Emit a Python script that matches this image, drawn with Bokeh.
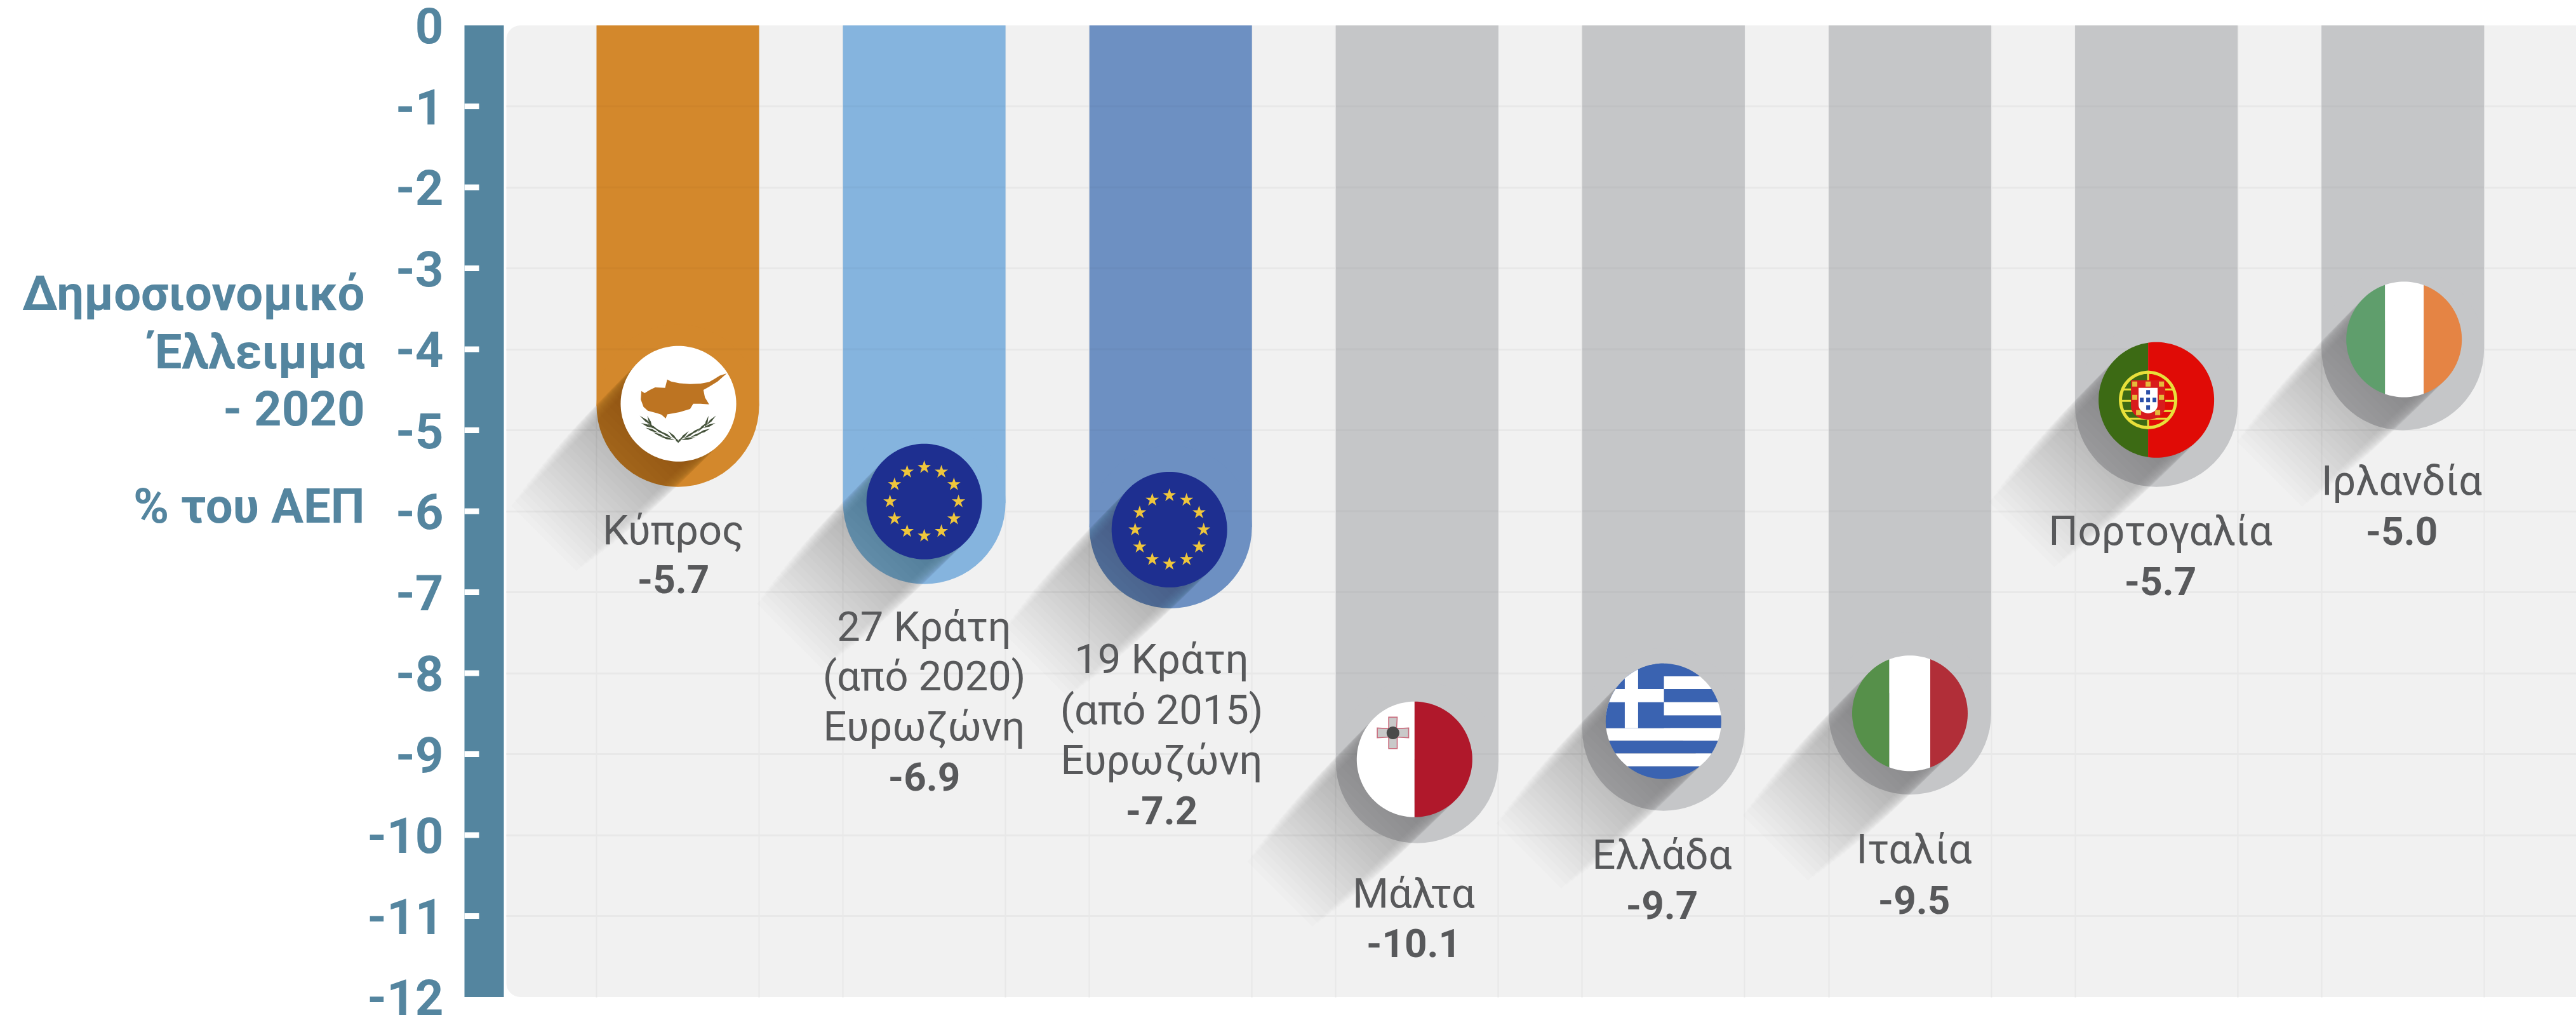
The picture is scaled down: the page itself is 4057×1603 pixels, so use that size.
from bokeh.plotting import figure
from bokeh.models import (BoxAnnotation, FixedTicker, Range1d, Grid)
from bokeh.core.properties import value
from bokeh.embed import file_html
from bokeh.resources import INLINE
import numpy as np

# ---------- data ----------
categories = [["Κύπρος"],
              ["27 Κράτη", "(από 2020)", "Ευρωζώνη"],
              ["19 Κράτη", "(από 2015)", "Ευρωζώνη"],
              ["Μάλτα"], ["Ελλάδα"], ["Ιταλία"], ["Πορτογαλία"], ["Ιρλανδία"]]
deficits = [-5.7, -6.9, -7.2, -10.1, -9.7, -9.5, -5.7, -5.0]
value_labels = ["-5.7", "-6.9", "-7.2", "-10.1", "-9.7", "-9.5", "-5.7", "-5.0"]
bar_colors = ["#d3882c", "#85b4de", "#6d90c2", "#c5c6c8", "#c5c6c8", "#c5c6c8", "#c5c6c8", "#c5c6c8"]
y_ticks = [0, -1, -2, -3, -4, -5, -6, -7, -8, -9, -10, -11, -12]
y_tick_labels = ["0", "-1", "-2", "-3", "-4", "-5", "-6", "-7", "-8", "-9", "-10", "-11", "-12"]
title_lines = ["Δημοσιονομικό", "Έλλειμμα", "- 2020", "% του ΑΕΠ"]

# ---------- page geometry (page pixels) ----------
FIG_W, FIG_H = 4057, 1603
X0, XS = 1067.0, 388.1       # page x of the first bar, spacing of the bars
Y0, YS = 39.5, 127.5         # page y of value 0, pixels per unit
BAR_W = 256
FLAG_R = 91
# how far each flag sits from the centre of its bar's round end
flag_dx = [1, 0, -2, -4, 0, 0, 0, 2]
flag_dy = [-3, -2, 4, -4, -13, 0, -9, -15]


def X(px):
    return (np.asarray(px, dtype=float) - X0) / XS


def Y(py):
    return -(np.asarray(py, dtype=float) - Y0) / YS


def page_y(v):
    return Y0 - v * YS


BLUE = "#54859f"
GREY_TEXT = "#58595b"

p = figure(width=FIG_W, height=FIG_H, output_backend="svg", toolbar_location=None,
           x_range=Range1d(float(X(0)), float(X(FIG_W))),
           y_range=Range1d(float(Y(FIG_H)), float(Y(0))),
           min_border_left=0, min_border_right=0, min_border_top=0, min_border_bottom=0,
           outline_line_color=None, background_fill_color="white")
p.xaxis.visible = False
p.xgrid.visible = False
p.ygrid.visible = False

ax = p.yaxis[0]
ax.fixed_location = float(X(731))
ax.ticker = FixedTicker(ticks=y_ticks)
ax.major_label_overrides = dict(zip(y_ticks, y_tick_labels))
ax.axis_line_color = None
ax.major_tick_line_color = None
ax.minor_tick_line_color = None
ax.major_tick_in = 0
ax.major_tick_out = 0
ax.major_label_standoff = 33
ax.major_label_text_font = "Roboto"
ax.major_label_text_font_style = "bold"
ax.major_label_text_font_size = "78px"
ax.major_label_text_color = BLUE

# panel
p.add_layout(BoxAnnotation(left=float(X(797)), right=float(X(FIG_W)) + 1, top=0, bottom=-12,
                           fill_color="#f1f1f1", fill_alpha=1, line_color=None,
                           border_radius=22, level="image"))

# grid
grid_y = Grid(dimension=1, ticker=FixedTicker(ticks=y_ticks[1:-1]),
              cross_bounds=(float(X(797)), float(X(FIG_W))),
              grid_line_color="#e8e8e8", grid_line_width=3, level="underlay")
edges = [i + s * BAR_W / 2 / XS for i in range(len(deficits)) for s in (-1, 1)]
grid_x = Grid(dimension=0, ticker=FixedTicker(ticks=edges), cross_bounds=(-12, 0),
              grid_line_color="#e8e8e8", grid_line_width=2, level="underlay")
p.add_layout(grid_y)
p.add_layout(grid_x)

idx = list(range(len(deficits)))
cap_r = BAR_W / 2
centres_y = [float(Y(page_y(v) - cap_r)) for v in deficits]

# axis band with its white tick marks
p.quad(left=float(X(731)), right=float(X(793)), top=y_ticks[0], bottom=y_ticks[-1],
       fill_color=BLUE, line_color=None)
p.segment(x0=[float(X(731))] * 11, x1=[float(X(754))] * 11, y0=y_ticks[1:-1], y1=y_ticks[1:-1],
          line_color="white", line_width=9)

# bars with round ends
p.vbar(x=idx, top=0, bottom=centres_y, width=BAR_W / XS, fill_color=bar_colors, line_color=None)
p.scatter(x=idx, y=centres_y, size=BAR_W, marker="circle", fill_color=bar_colors, line_color=None)

# grid lines faintly visible through the bars
for i in idx:
    rows = [t for t in y_ticks[1:-1] if t > centres_y[i]]
    p.segment(x0=[i - BAR_W / 2 / XS] * len(rows), x1=[i + BAR_W / 2 / XS] * len(rows),
              y0=rows, y1=rows, line_color="black", line_alpha=0.025, line_width=3)


def fcx(i):
    return X0 + i * XS + flag_dx[i]


def fcy(i):
    return page_y(deficits[i]) - cap_r + flag_dy[i]


# long shadows, built up from stacked translucent strips that taper at the far end
N = 30
LEN = 300
d = np.sqrt(0.5)
sx, sy = [], []
for i in idx:
    cx, cy = fcx(i), fcy(i)
    for k in range(N):
        L = LEN * (k + 1) / N
        w = FLAG_R * (1 - 0.22 * (k / N) ** 3)
        ux = [cx - w * d, cx + w * d, cx + w * d - L * d, cx - w * d - L * d]
        uy = [cy - w * d, cy + w * d, cy + w * d + L * d, cy - w * d + L * d]
        sx.append(X(ux).tolist())
        sy.append(Y(uy).tolist())
p.patches(sx, sy, fill_color="black", fill_alpha=0.012, line_color=None)


# ---------- flags: polygons in pixel offsets from the flag's centre, clipped to its disc ----------
def circle_poly(r=FLAG_R, cx=0.0, cy=0.0, n=144):
    t = np.linspace(0, 2 * np.pi, n, endpoint=False)
    return list(zip(cx + r * np.cos(t), cy + r * np.sin(t)))


def clip(subject, clipper):
    def inside(a, b, q):
        return (b[0] - a[0]) * (q[1] - a[1]) - (b[1] - a[1]) * (q[0] - a[0]) >= 0

    def cross(a, b, s, e):
        dc = (a[0] - b[0], a[1] - b[1])
        dp = (s[0] - e[0], s[1] - e[1])
        n1 = a[0] * b[1] - a[1] * b[0]
        n2 = s[0] * e[1] - s[1] * e[0]
        n3 = dc[0] * dp[1] - dc[1] * dp[0]
        return ((n1 * dp[0] - n2 * dc[0]) / n3, (n1 * dp[1] - n2 * dc[1]) / n3)

    out = list(subject)
    for j in range(len(clipper)):
        a, b = clipper[j - 1], clipper[j]
        inp, out = out, []
        if not inp:
            break
        s = inp[-1]
        for e in inp:
            if inside(a, b, e):
                if not inside(a, b, s):
                    out.append(cross(a, b, s, e))
                out.append(e)
            elif inside(a, b, s):
                out.append(cross(a, b, s, e))
            s = e
    return out


def rect(x0, y0, x1, y1):
    return [(x0, y0), (x1, y0), (x1, y1), (x0, y1)]


fx, fy, fc = [], [], []


def free(i, poly, color):
    fx.append(X([fcx(i) + q[0] for q in poly]).tolist())
    fy.append(Y([fcy(i) + q[1] for q in poly]).tolist())
    fc.append(color)


def part(i, poly, color, r=FLAG_R):
    poly = clip(poly, circle_poly(r))
    if poly:
        free(i, poly, color)


# Cyprus
part(0, circle_poly(), "#ffffff")
island = [(553, 172), (520, 182), (495, 198), (470, 212), (430, 220), (380, 222), (330, 218), (290, 210),
          (272, 200), (262, 240), (215, 238), (190, 250), (165, 265), (150, 255), (147, 295), (160, 330),
          (180, 348), (225, 360), (245, 367), (265, 385), (272, 365), (330, 355), (380, 340), (395, 315),
          (430, 315), (470, 318), (450, 285), (443, 250), (470, 235), (510, 210)]
free(0, [((a - 325) / 3, (b - 315) / 3) for a, b in island], "#bd7422")
leaves = [(172, 395, 10, 8), (190, 402, 4, 10), (178, 418, 10, 4), (205, 425, 10, 6), (200, 440, 10, 4),
          (235, 445, 10, 6), (235, 462, 10, 4), (268, 462, 10, 6), (272, 478, 12, 3), (300, 468, 8, 8),
          (478, 395, -8, 8), (458, 402, -3, 10), (470, 418, -10, 4), (438, 425, -8, 8), (445, 445, -10, 4),
          (405, 445, -10, 6), (410, 462, -10, 4), (378, 462, -10, 6), (370, 480, -12, 2), (350, 468, -8, 8),
          (318, 488, 3, 4), (330, 488, -3, 4)]
for a, b, u, v in leaves:
    ox, oy = (a - 325) / 3, (b - 315) / 3
    n = np.hypot(u, v)
    nx, ny = -v / n * 1.7, u / n * 1.7
    free(0, [(ox - u, oy - v), (ox + nx, oy + ny), (ox + u, oy + v), (ox - nx, oy - ny)], "#44523a")

# EU
eu_x, eu_y = [], []
for i in (1, 2):
    part(i, circle_poly(), "#1e2f90")
    for k in range(12):
        a = np.pi * k / 6
        eu_x.append(float(X(fcx(i) + 54 * np.cos(a))))
        eu_y.append(float(Y(fcy(i) + 54 * np.sin(a))))

# Malta
part(3, rect(-100, -100, 0, 100), "#ffffff")
part(3, rect(0, -100, 100, 100), "#b0182b")
ccx, ccy = (218 - 320) / 3, (190 - 315) / 3
for col, g in (("#c96a7c", 0.0), ("#c9c9c9", 1.6)):
    hw, hl = 7.5 - g, 25.5 - g
    free(3, [(ccx - hw, ccy - hl), (ccx + hw, ccy - hl), (ccx + hw - 1, ccy - hw), (ccx + hl, ccy - hw - 1),
             (ccx + hl, ccy + hw + 1), (ccx + hw, ccy + hw), (ccx + hw, ccy + hl), (ccx - hw, ccy + hl),
             (ccx - hw, ccy + hw), (ccx - hl, ccy + hw + 1), (ccx - hl, ccy - hw - 1), (ccx - hw, ccy - hw)], col)
free(3, circle_poly(10, ccx, ccy), "#4a4a4a")

# Greece
stripes = [40, 103, 163, 225, 287, 347, 407, 467, 528, 590]
GB = "#3a63b1"
for k in range(9):
    part(4, rect(-100, (stripes[k] - 315) / 3, 100, (stripes[k + 1] - 315) / 3), GB if k % 2 == 0 else "#ffffff")
part(4, rect(-100, -100, (327 - 325) / 3, (347 - 315) / 3), GB)
part(4, rect((142 - 325) / 3, -100, (205 - 325) / 3, (347 - 315) / 3), "#ffffff")
part(4, rect(-100, (163 - 315) / 3, (327 - 325) / 3, (225 - 315) / 3), "#ffffff")

# Italy
part(5, rect(-100, -100, -32.5, 100), "#56904a")
part(5, rect(-32.5, -100, 32, 100), "#ffffff")
part(5, rect(32, -100, 100, 100), "#b12e38")

# Portugal
PX = -13.0
part(6, rect(-100, -100, PX, 100), "#3c6a14")
part(6, rect(PX, -100, 100, 100), "#e00b06")
free(6, circle_poly(46, PX, 0), "#e8e03a")
free(6, clip(rect(-100, -100, PX, 100), circle_poly(41, PX, 0)), "#3c6a14")
free(6, clip(rect(PX, -100, 100, 100), circle_poly(41, PX, 0)), "#e00b06")
for by, h in ((-18, 3), (0, 3), (16, 3), (28, 3)):
    free(6, clip(rect(PX - 46, by, PX + 46, by + h), circle_poly(44, PX, 0)), "#e8e03a")
free(6, rect(PX - 1.5, -46, PX + 1.5, 46), "#e8e03a")
free(6, [(PX - 27, -31), (PX + 27, -31), (PX + 27, 10)] +
     [(PX + 27 * np.cos(t), 10 + 21 * np.sin(t)) for t in np.linspace(0, np.pi, 20)] + [(PX - 27, 10)], "#d81c1c")
free(6, [(PX - 15, -19), (PX + 15, -19), (PX + 15, 8)] +
     [(PX + 15 * np.cos(t), 8 + 13 * np.sin(t)) for t in np.linspace(0, np.pi, 16)] + [(PX - 15, 8)], "#ffffff")
for a, b in ((0, -12), (-10, 0), (0, 0), (10, 0), (0, 12)):
    free(6, rect(PX + a - 3, b - 3.5, PX + a + 3, b + 3.5), "#2a4fa8")
for a, b in ((-21, -25), (0, -25), (21, -25), (-21, -4), (21, -4), (-15, 20), (15, 20)):
    free(6, rect(PX + a - 4, b - 4, PX + a + 4, b + 4), "#e6b93a")

# Ireland
part(7, rect(-100, -100, -30, 100), "#5f9e6c")
part(7, rect(-30, -100, 31, 100), "#ffffff")
part(7, rect(31, -100, 100, 100), "#e58444")

p.patches(fx, fy, fill_color=fc, line_color=None)
p.scatter(x=eu_x, y=eu_y, marker="star", size=22, fill_color="#efc63c", line_color=None)

# ---------- texts (baselines; BASE_K compensates the renderer's alphabetic offset) ----------
BASE_K = 0.36
label_x = [1060, 1455, 1829, 2226, 2617, 3014, 3402, 3782]
name_base = [[858], [1010, 1088, 1167], [1061, 1141, 1220], [1430], [1369], [1360], [859], [780]]
val_base = [934, 1245, 1298, 1507, 1447, 1439, 937, 858]
NAME_SIZE, VAL_SIZE, TITLE_SIZE = 65, 62, 76
tx, ty, tt = [], [], []
for i, lines in enumerate(categories):
    for s, b in zip(lines, name_base[i]):
        tx.append(float(X(label_x[i])))
        ty.append(float(Y(b - BASE_K * NAME_SIZE)))
        tt.append(s)
p.text(tx, ty, text=tt, text_font=value("Roboto"), text_font_size=f"{NAME_SIZE}px", text_color=GREY_TEXT,
       text_align="center", text_baseline="alphabetic")
p.text(X(label_x).tolist(), Y(np.array(val_base) - BASE_K * VAL_SIZE).tolist(), text=value_labels,
       text_font=value("Roboto"), text_font_style="bold", text_font_size=f"{VAL_SIZE}px", text_color=GREY_TEXT,
       text_align="center", text_baseline="alphabetic")

title_base = [489, 581, 671, 824]
p.text([float(X(574))] * 4, Y(np.array(title_base) - BASE_K * TITLE_SIZE).tolist(), text=title_lines,
       text_font=value("Roboto"), text_font_style="bold", text_font_size=f"{TITLE_SIZE}px", text_color=BLUE,
       text_align="right", text_baseline="alphabetic")

open("out.html", "w").write(file_html(p, INLINE))
